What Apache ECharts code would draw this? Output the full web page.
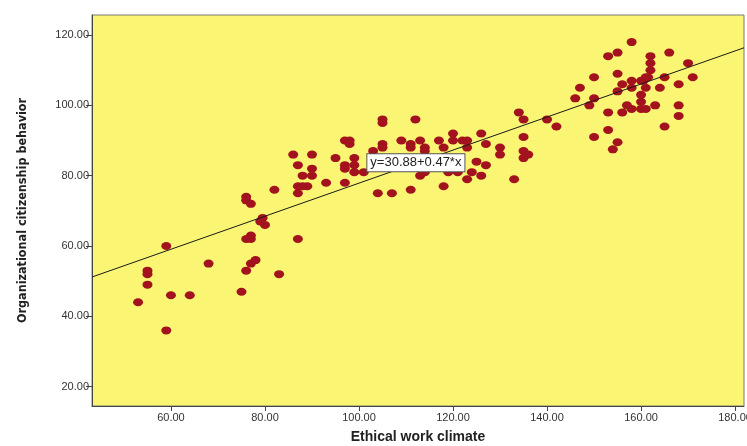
<!DOCTYPE html>
<html>
<head>
<meta charset="utf-8">
<script src="https://cdn.jsdelivr.net/npm/echarts@6.0.0/dist/echarts.min.js"></script>
<style>
    html, body { margin: 0; padding: 0; background: #fff; }
    #main { width: 747px; height: 446px; }
</style>
</head>
<body>
<div id="main"></div>
<script>
// Ethical work climate (x) / Organizational citizenship behavior (y)
var climate = [53, 55, 55, 55, 59, 59, 60, 64, 68, 75, 76, 77, 78, 76, 76, 77, 76, 77, 77, 79.5,
    79, 80, 82, 83, 86, 87, 88, 87, 88, 89, 87, 87, 90, 90, 90, 93, 95, 97, 98, 98,
    97, 97, 99, 99, 99, 101, 97, 103, 104, 105, 105, 105, 105, 107, 109, 111, 111, 111, 112, 113,
    114, 114, 113, 114, 117, 118, 118, 119, 120, 120, 121, 122, 123, 123, 123, 124, 125, 126, 126, 127,
    127, 130, 130, 133, 134, 135, 135, 135, 136, 135, 140, 142, 146, 147, 149, 150, 150, 150, 153, 155,
    153, 153, 155, 155, 155, 154, 156, 156, 157, 158, 158, 158, 158, 160, 160.5, 161, 161.5, 160, 160, 160,
    161, 161, 162, 162, 162, 163, 164, 165, 166, 165, 168, 168, 168, 170, 171];
var ocb = [44, 53, 52, 49, 60, 36, 46, 46, 55, 47, 53, 55, 56, 74, 73, 72, 62, 63, 62, 68,
    67, 66, 76, 52, 86, 83, 80, 77, 77, 77, 75, 62, 80, 86, 82, 78, 85, 90, 90, 89,
    83, 82, 83, 85, 81, 81, 78, 87, 75, 96, 95, 89, 88, 75, 90, 89, 88, 76, 96, 90,
    88, 87, 80, 81, 90, 88, 77, 81, 92, 90, 81, 90, 90, 88, 79, 81, 84, 92, 80, 89,
    83, 88, 86, 79, 98, 96, 91, 87, 86, 85, 96, 94, 102, 105, 100, 108, 102, 91, 114, 115,
    98, 93, 109, 104, 89.5, 87.5, 106, 98, 100, 99, 118, 107, 105, 107, 107, 108, 108, 103, 101, 99,
    99, 105, 114, 112, 110, 100, 105, 108, 115, 94, 106, 100, 97, 112, 108];

var xTicks = [60, 80, 100, 120, 140, 160, 180];
var yTicks = [20, 40, 60, 80, 100, 120];
var xRange = [43.2, 181.9];
var yRange = [14.5, 125.7];

// fit line y = a + b*x
var fitA = 30.88;
var fitB = 0.47;
var fitText = 'y=30.88+0.47*x';
var fitLabelAt = [112.1, 83.7];

var points = [];
for (var i = 0; i < climate.length; i++) {
    points.push([climate[i], ocb[i]]);
}
var fitLine = [
    [xRange[0], fitA + fitB * xRange[0]],
    [xRange[1], fitA + fitB * xRange[1]]
];

var myChart = echarts.init(document.getElementById('main'));
var option = {
    animation: false,
    grid: {
        left: 92,
        right: 3,
        top: 15,
        bottom: 40,
        outerBoundsMode: 'none',
        containLabel: false,
        show: true,
        backgroundColor: '#FAF573',
        borderColor: '#7a7a7a',
        borderWidth: 1
    },
    xAxis: {
        type: 'value',
        min: xRange[0],
        max: xRange[1],
        name: 'Ethical work climate',
        nameLocation: 'middle',
        nameGap: 24,
        nameTextStyle: {
            fontFamily: 'Liberation Sans',
            fontWeight: 'bold',
            fontSize: 14,
            color: '#222'
        },
        axisLine: { lineStyle: { color: '#444' } },
        axisTick: { length: 5, lineStyle: { color: '#444' }, customValues: xTicks },
        axisLabel: {
            customValues: xTicks,
            margin: 6,
            fontFamily: 'Liberation Sans',
            fontSize: 11,
            color: '#333',
            formatter: function (v) { return v.toFixed(2); }
        },
        splitLine: { show: false }
    },
    yAxis: {
        type: 'value',
        min: yRange[0],
        max: yRange[1],
        name: 'Organizational citizenship behavior',
        nameLocation: 'middle',
        nameGap: 63,
        nameTextStyle: {
            fontFamily: 'DejaVu Sans Condensed, Liberation Sans',
            fontWeight: 'bold',
            fontSize: 12.5,
            color: '#222'
        },
        axisLine: { lineStyle: { color: '#444' } },
        axisTick: { length: 6, lineStyle: { color: '#444' }, customValues: yTicks },
        axisLabel: {
            customValues: yTicks,
            margin: 3,
            fontFamily: 'Liberation Sans',
            fontSize: 11,
            color: '#333',
            formatter: function (v) { return v.toFixed(2); }
        },
        splitLine: { show: false }
    },
    series: [
        {
            type: 'scatter',
            data: points,
            symbol: 'circle',
            symbolSize: [10, 8],
            itemStyle: { color: '#A3131D', opacity: 1 },
            z: 2
        },
        {
            type: 'line',
            data: fitLine,
            symbol: 'none',
            lineStyle: { color: '#1a1a1a', width: 1 },
            z: 3,
            markPoint: {
                symbol: 'rect',
                symbolSize: 1,
                itemStyle: { color: 'rgba(0,0,0,0)' },
                label: {
                    show: true,
                    position: 'inside',
                    formatter: fitText,
                    fontFamily: 'Liberation Sans',
                    fontSize: 13,
                    color: '#222',
                    backgroundColor: '#fff',
                    borderColor: '#555',
                    borderWidth: 1,
                    padding: [2, 3]
                },
                data: [{ coord: fitLabelAt }]
            }
        }
    ]
};
myChart.setOption(option);
</script>
</body>
</html>
